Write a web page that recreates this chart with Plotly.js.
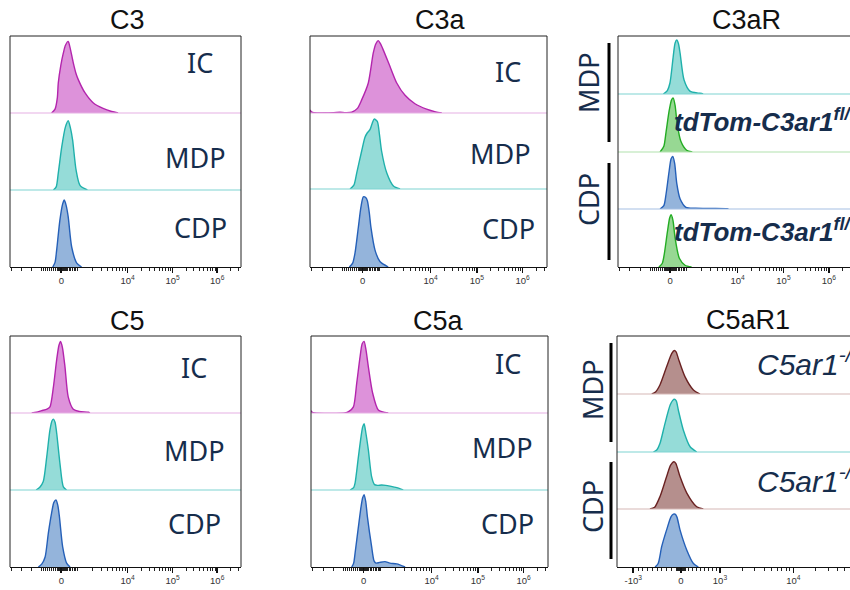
<!DOCTYPE html>
<html><head><meta charset="utf-8">
<script src="https://cdn.plot.ly/plotly-3.0.1.min.js"></script>
<style>html,body{margin:0;padding:0;background:#fff}#chart{width:850px;height:590px}</style>
</head><body><div id="chart"></div>
<script>
// ---------- DATA (x in axis channel units 0-1000 across a panel, y = fraction of row max) ----------
const panelTitles = ["C3", "C3a", "C3aR", "C5", "C5a", "C5aR1"];
const rowLabels = ["IC", "MDP", "CDP"];
const sideLabels = ["MDP", "CDP"];
const genotypeC3ar = "tdTom-C3ar1";
const genotypeC3arSup = "fl/fl";
const genotypeC5ar = "C5ar1";
const genotypeC5arSup = "-/-";

// Axis ticks (channel positions of biexponential decades)
const ticksA_vals = [222, 509, 704, 897];
const ticksA_text = ["0", "10<sup>4</sup>", "10<sup>5</sup>", "10<sup>6</sup>"];
const ticksA_grid = [137, 222, 291, 509, 704, 897];          // -10^3, 0, 10^3, 10^4, 10^5, 10^6
const ticksA_decades = [-1000, 0, 1000, 10000, 100000, 1000000];
const ticksB_vals = [69, 272, 438, 750];
const ticksB_text = ["-10<sup>3</sup>", "0", "10<sup>3</sup>", "10<sup>4</sup>"];
const ticksB_grid = [69, 272, 438, 750, 1061];
const ticksB_decades = [-1000, 0, 1000, 10000, 100000];

// C3
const C3_IC_x  = [180,195,205,209,220,231,240,252,260,274,285,296,325,361,403,440,468];
const C3_IC_y  = [0,0.05,0.2,0.39,0.62,0.78,0.88,0.93,0.85,0.65,0.52,0.43,0.26,0.13,0.06,0.02,0];
const C3_MDP_x = [188,200,209,224,240,252,262,271,286,303,335];
const C3_MDP_y = [0,0.04,0.22,0.56,0.82,0.9,0.8,0.65,0.26,0.06,0];
const C3_CDP_x = [185,195,202,216,228,235,243,252,267,289,310];
const C3_CDP_y = [0,0.06,0.22,0.61,0.82,0.87,0.8,0.65,0.26,0.05,0];
// C3a
const C3a_IC_x  = [0,8,30,100,127,150,176,200,218,246,267,278,288,297,309,338,366,401,443,492,530,556];
const C3a_IC_y  = [0.04,0.01,0,0.005,0.01,0.005,0.01,0.06,0.17,0.39,0.78,0.9,0.94,0.9,0.82,0.6,0.39,0.23,0.12,0.05,0.015,0];
const C3a_MDP_x = [169,185,197,218,232,242,253,262,271,284,293,302,324,352,380];
const C3a_MDP_y = [0,0.05,0.21,0.5,0.68,0.74,0.78,0.86,0.92,0.89,0.72,0.5,0.21,0.04,0];
const C3a_CDP_x = [166,180,190,204,215,225,235,242,250,257,274,295,330];
const C3a_CDP_y = [0,0.05,0.18,0.51,0.77,0.9,0.89,0.85,0.7,0.51,0.22,0.07,0];
// C3aR
const C3aR_MDP_x   = [193,210,221,235,243,250,257,264,281,306,340,356,362];
const C3aR_MDP_y   = [0,0.06,0.19,0.65,0.88,0.93,0.87,0.71,0.24,0.05,0.015,0.01,0];
const C3aR_MDPfl_x = [179,195,204,218,228,235,243,252,267,292,316];
const C3aR_MDPfl_y = [0,0.1,0.33,0.72,0.9,0.93,0.8,0.48,0.19,0.03,0];
const C3aR_CDP_x   = [179,195,204,218,226,233,241,250,264,289,330,400,463,470];
const C3aR_CDP_y   = [0,0.06,0.25,0.68,0.88,0.92,0.8,0.45,0.18,0.03,0.015,0.01,0.005,0];
const C3aR_CDPfl_x = [174,188,196,210,220,226,234,243,261,285,313];
const C3aR_CDPfl_y = [0,0.06,0.2,0.6,0.85,0.9,0.8,0.5,0.15,0.03,0];
// C5
const C5_IC_x  = [94,115,137,160,173,188,202,212,219,227,238,252,274,300,339,346];
const C5_IC_y  = [0,0.01,0.03,0.05,0.08,0.34,0.69,0.88,0.93,0.85,0.6,0.21,0.05,0.02,0.01,0];
const C5_MDP_x = [113,130,144,159,173,182,188,195,202,216,231,245];
const C5_MDP_y = [0,0.04,0.11,0.43,0.78,0.9,0.92,0.88,0.74,0.35,0.04,0];
const C5_CDP_x = [123,138,152,166,180,190,199,207,214,228,245,260];
const C5_CDP_y = [0,0.04,0.13,0.44,0.7,0.84,0.87,0.8,0.65,0.26,0.05,0];
// C5a
const C5a_IC_x  = [0,5,15,143,160,179,193,207,216,224,232,242,260,284,326];
const C5a_IC_y  = [0.03,0.01,0,0,0.02,0.08,0.39,0.73,0.9,0.93,0.82,0.6,0.26,0.04,0];
const C5a_MDP_x = [165,180,186,200,211,218,224,231,242,256,268,280,298,315,333,362,389];
const C5a_MDP_y = [0,0.03,0.09,0.43,0.69,0.82,0.86,0.75,0.52,0.17,0.07,0.06,0.065,0.06,0.05,0.03,0];
const C5a_CDP_x = [172,180,186,200,211,218,224,231,238,256,266,274,290,312,333,362,397];
const C5a_CDP_y = [0,0.05,0.18,0.52,0.78,0.9,0.94,0.85,0.65,0.26,0.08,0.05,0.06,0.07,0.05,0.04,0];
// C5aR1
const C5aR1_MDPko_x = [148,165,183,211,233,244,252,261,289,325,353];
const C5aR1_MDPko_y = [0,0.04,0.16,0.47,0.7,0.75,0.72,0.61,0.3,0.07,0];
const C5aR1_MDP_x   = [155,170,183,204,226,237,244,252,261,282,311,339];
const C5aR1_MDP_y   = [0,0.04,0.15,0.49,0.81,0.89,0.91,0.88,0.72,0.38,0.09,0];
const C5aR1_CDPko_x = [140,160,183,211,228,242,250,268,297,339,367];
const C5aR1_CDPko_y = [0,0.03,0.22,0.57,0.77,0.83,0.8,0.57,0.28,0.04,0];
const C5aR1_CDP_x   = [162,175,190,211,230,240,247,255,268,297,325,346];
const C5aR1_CDP_y   = [0,0.06,0.35,0.64,0.87,0.91,0.91,0.86,0.64,0.29,0.06,0];

// ---------- STYLE ----------
const COL = {
  IC:    {line:'#b325ad', fill:'#dd92da', sep:'#e6b0e4'},
  MDP:   {line:'#1fb0ab', fill:'#95dcd8', sep:'#7fd3d1'},
  CDP:   {line:'#2560b8', fill:'#94b4db', sep:'#a6c0e4'},
  GREEN: {line:'#23ac23', fill:'#97d893', sep:'#b2e2ae'},
  BROWN: {line:'#6a2222', fill:'#b58f8d', sep:'#d6b8b6'}
};
const NAVY = '#162d4c';
const W = 850, H = 590;
const fx = v => v / W;
const fy = v => 1 - v / H;

const panels = [
  {xl:10,  xr:241, rows:[36,113,190,267], range:[0,1000], tk:'A', closed:true,
   series:[[C3_IC_x,C3_IC_y,'IC'],[C3_MDP_x,C3_MDP_y,'MDP'],[C3_CDP_x,C3_CDP_y,'CDP']],
   title:[127,20], labels:[[200,63],[195,157],[200,227]]},
  {xl:310, xr:547, rows:[36,113,189,267], range:[0,1000], tk:'A', closed:true,
   series:[[C3a_IC_x,C3a_IC_y,'IC'],[C3a_MDP_x,C3a_MDP_y,'MDP'],[C3a_CDP_x,C3a_CDP_y,'CDP']],
   title:[440,20], labels:[[508,71],[500,153],[508,228]]},
  {xl:618, xr:850, rows:[36,94,152,209,267], range:[0,987], tk:'A', closed:false,
   series:[[C3aR_MDP_x,C3aR_MDP_y,'MDP'],[C3aR_MDPfl_x,C3aR_MDPfl_y,'GREEN'],[C3aR_CDP_x,C3aR_CDP_y,'CDP'],[C3aR_CDPfl_x,C3aR_CDPfl_y,'GREEN']],
   title:[746,20]},
  {xl:10,  xr:241, rows:[336,413,490,567], range:[0,1000], tk:'A', closed:true,
   series:[[C5_IC_x,C5_IC_y,'IC'],[C5_MDP_x,C5_MDP_y,'MDP'],[C5_CDP_x,C5_CDP_y,'CDP']],
   title:[127,321], labels:[[194,367],[194,450],[194,523]]},
  {xl:311, xr:548, rows:[336,413,490,567], range:[0,1000], tk:'A', closed:true,
   series:[[C5a_IC_x,C5a_IC_y,'IC'],[C5a_MDP_x,C5a_MDP_y,'MDP'],[C5a_CDP_x,C5a_CDP_y,'CDP']],
   title:[438,321], labels:[[508,363],[502,447],[507,523]]},
  {xl:617, xr:850, rows:[336,394,452,509,567], range:[0,991], tk:'B', closed:false,
   series:[[C5aR1_MDPko_x,C5aR1_MDPko_y,'BROWN'],[C5aR1_MDP_x,C5aR1_MDP_y,'MDP'],[C5aR1_CDPko_x,C5aR1_CDPko_y,'BROWN'],[C5aR1_CDP_x,C5aR1_CDP_y,'CDP']],
   title:[748,320]}
];

// minor tick positions (hundreds near zero, log steps per decade)
function minorTicks(vals, decs, extraLeft, maxCh) {
  const out = extraLeft.slice();
  for (let i = 0; i < vals.length - 1; i++) {
    const a = vals[i], b = vals[i+1], da = decs[i], db = decs[i+1];
    if (da <= 0 || db <= 1000) {
      for (let k = 1; k < 10; k++) out.push(a + (b - a) * k / 10);
    } else {
      for (let k = 2; k < 10; k++) out.push(a + (b - a) * Math.log10(k));
    }
  }
  const n = vals.length, step = vals[n-1] - vals[n-2];
  for (let k = 2; k < 10; k++) out.push(vals[n-1] + step * Math.log10(k));
  // dense cluster around zero
  const z = vals[decs.indexOf(0)];
  for (let k = -6; k <= 6; k++) if (k !== 0) out.push(z + k * 3);
  // unlabeled decade ticks
  vals.forEach((v, i) => { if (Math.abs(decs[i]) === 1000) { out.push(v - 0.8, v + 0.8); } });
  return out.filter(v => v > 0 && v < maxCh);
}

const traces = [], layout = {
  width: W, height: H, margin: {l:0, r:0, t:0, b:0},
  paper_bgcolor: '#fff', plot_bgcolor: 'rgba(0,0,0,0)', showlegend: false,
  shapes: [], annotations: []
};
let yi = 0;
panels.forEach((p, pi) => {
  const xname = pi === 0 ? 'xaxis' : 'xaxis' + (pi + 1);
  const xref = pi === 0 ? 'x' : 'x' + (pi + 1);
  const nRows = p.rows.length - 1;
  const yrefs = [];
  for (let r = 0; r < nRows; r++) {
    yi++;
    const yname = yi === 1 ? 'yaxis' : 'yaxis' + yi;
    const yref = yi === 1 ? 'y' : 'y' + yi;
    yrefs.push(yref);
    layout[yname] = {domain:[fy(p.rows[r+1]), fy(p.rows[r])], anchor: xref, range:[0, 1],
      visible:false, fixedrange:true};
    const s = p.series[r], c = COL[s[2]];
    traces.push({type:'scatter', mode:'lines', x:s[0], y:s[1], xaxis:xref, yaxis:yref,
      fill:'tozeroy', fillcolor:c.fill, line:{color:c.line, width:1.4, shape:'spline', smoothing:0.7},
      hoverinfo:'skip'});
    if (r < nRows - 1) {
      layout.shapes.push({type:'line', xref:'paper', yref:'paper', x0:fx(p.xl), x1:fx(p.xr),
        y0:fy(p.rows[r+1]), y1:fy(p.rows[r+1]), line:{color:c.sep, width:1.2}});
    }
  }
  const A = p.tk === 'A';
  const tv = A ? ticksA_vals : ticksB_vals;
  const tt = A ? ticksA_text : ticksB_text;
  const tg = A ? ticksA_grid : ticksB_grid;
  const td = A ? ticksA_decades : ticksB_decades;
  const left = A ? [7, 51, 94] : [];
  layout[xname] = {domain:[fx(p.xl), fx(p.xr)], anchor: yrefs[yrefs.length-1], range:p.range,
    showgrid:false, zeroline:false, showline:true, linecolor:'#111', linewidth:1,
    ticks:'outside', ticklen:5, tickwidth:1.6, tickcolor:'#111',
    tickmode:'array', tickvals:tv, ticktext:tt,
    tickfont:{family:'Liberation Sans, Arial, sans-serif', size:9.5, color:'#333'},
    minor:{tickmode:'array', tickvals:minorTicks(tg, td, left, p.range[1]), ticks:'outside', ticklen:3, tickcolor:'#222', tickwidth:1},
    fixedrange:true};
  // frame
  const t = fy(p.rows[0]), b = fy(p.rows[p.rows.length-1]);
  layout.shapes.push({type:'line', xref:'paper', yref:'paper', x0:fx(p.xl), x1:fx(p.xl), y0:b, y1:t, line:{color:'#222', width:1}});
  layout.shapes.push({type:'line', xref:'paper', yref:'paper', x0:fx(p.xl), x1:fx(p.xr), y0:t, y1:t, line:{color:'#222', width:1}});
  if (p.closed) layout.shapes.push({type:'line', xref:'paper', yref:'paper', x0:fx(p.xr), x1:fx(p.xr), y0:b, y1:t, line:{color:'#222', width:1}});
  // title
  layout.annotations.push({xref:'paper', yref:'paper', x:fx(p.title[0]), y:fy(p.title[1]), text:panelTitles[pi],
    showarrow:false, xanchor:'center', yanchor:'middle', font:{family:'Liberation Sans, Arial, sans-serif', size:27, color:'#111'}});
  if (p.labels) p.labels.forEach((L, k) => layout.annotations.push({xref:'paper', yref:'paper', x:fx(L[0]), y:fy(L[1]),
    text:rowLabels[k], showarrow:false, xanchor:'center', yanchor:'middle',
    font:{family:'Noto Sans, Liberation Sans, sans-serif', size:27, color:NAVY}}));
});

// side labels and bars for receptor panels
const sideDefs = [
  {x:588, ys:[83, 200], bars:[[609,43,142],[609,163,260]]},
  {x:592, ys:[390, 507], bars:[[611,343,442],[611,462,559]]}
];
sideDefs.forEach(d => {
  d.ys.forEach((yy, k) => layout.annotations.push({xref:'paper', yref:'paper', x:fx(d.x), y:fy(yy), text:sideLabels[k],
    textangle:-90, showarrow:false, xanchor:'center', yanchor:'middle',
    font:{family:'Noto Sans, Liberation Sans, sans-serif', size:27, color:NAVY}}));
  d.bars.forEach(bb => layout.shapes.push({type:'line', xref:'paper', yref:'paper', x0:fx(bb[0]), x1:fx(bb[0]),
    y0:fy(bb[2]), y1:fy(bb[1]), line:{color:'#000', width:3}}));
});

// genotype labels
[121, 230].forEach(yy => layout.annotations.push({xref:'paper', yref:'paper', x:fx(672), y:fy(yy),
  text:'<b><i>' + genotypeC3ar + '</i></b><sup><b><i>' + genotypeC3arSup + '</i></b></sup>',
  showarrow:false, xanchor:'left', yanchor:'middle',
  font:{family:'Liberation Sans, Arial, sans-serif', size:26, color:NAVY}}));
[362, 479].forEach(yy => layout.annotations.push({xref:'paper', yref:'paper', x:fx(755), y:fy(yy),
  text:'<i>' + genotypeC5ar + '</i><sup><i>' + genotypeC5arSup + '</i></sup>',
  showarrow:false, xanchor:'left', yanchor:'middle',
  font:{family:'Liberation Sans, Arial, sans-serif', size:30, color:NAVY}}));

Plotly.newPlot('chart', traces, layout, {staticPlot:true, displayModeBar:false});
</script></body></html>
